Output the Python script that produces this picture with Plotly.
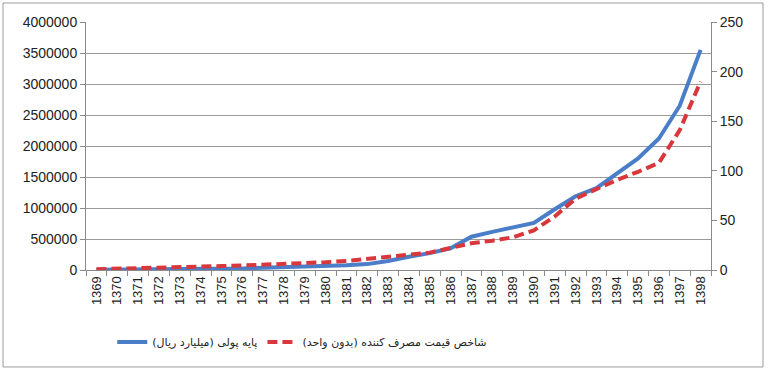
import plotly.graph_objects as go

years = [str(y) for y in range(1369, 1399)]
monetary_base = [3000, 4000, 5000, 7000, 9000, 13000, 18000, 25000, 37000, 45000,
                 54000, 64000, 77000, 95000, 145000, 215000, 272000, 350000, 537000, 615000,
                 680000, 760000, 980000, 1190000, 1320000, 1560000, 1800000, 2120000, 2650000, 3550000]
cpi = [0.8, 1.2, 1.5, 1.8, 2.5, 3.3, 4.0, 4.6, 5.2, 6.0,
       6.9, 7.8, 9.2, 11.0, 13.5, 15.5, 17.5, 22.0, 27.0, 29.5,
       33.0, 40.0, 54.0, 72.0, 82.0, 91.0, 99.0, 108.0, 141.0, 190.0]
name_mb = "پایه پولی (میلیارد ریال)\u200f"
name_cpi = "شاخص قیمت مصرف کننده (بدون واحد)\u200f"
left_ticks = [0, 500000, 1000000, 1500000, 2000000, 2500000, 3000000, 3500000, 4000000]
right_ticks = [0, 50, 100, 150, 200, 250]

fig = go.Figure()
fig.add_trace(go.Scatter(x=years, y=monetary_base, name=name_mb, mode="lines",
                         line=dict(color="#4A7EC8", width=4)))
fig.add_trace(go.Scatter(x=years, y=cpi, name=name_cpi, mode="lines", yaxis="y2",
                         line=dict(color="#D8383C", width=4, dash="10px,5px")))

axcol = "#8a8a8a"
fig.update_layout(
    width=768, height=369,
    margin=dict(l=86, r=57, t=22, b=99),
    paper_bgcolor="white", plot_bgcolor="white",
    font=dict(family="Liberation Sans, DejaVu Sans", size=14, color="#222"),
    showlegend=True,
    legend=dict(orientation="h", x=0.042, xanchor="left", y=-0.29, yanchor="middle",
                font=dict(family="DejaVu Sans", size=11, color="#222"),
                traceorder="normal", itemwidth=30),
    xaxis=dict(type="category", showgrid=False, showline=True, linecolor=axcol, linewidth=1,
               ticks="outside", tickson="boundaries", ticklen=5, tickcolor=axcol,
               tickangle=-90, tickfont=dict(size=13), range=[-0.5, 29.5]),
    yaxis=dict(range=[0, 4000000], tickvals=left_ticks, ticktext=[str(v) for v in left_ticks],
               showgrid=True, gridcolor="#9a9a9a", gridwidth=1.2, showline=True,
               linecolor=axcol, ticks="outside", ticklen=5, tickcolor=axcol, zeroline=False),
    yaxis2=dict(range=[0, 250], tickvals=right_ticks, overlaying="y", side="right",
                showgrid=False, showline=True, linecolor=axcol, ticks="outside", ticklen=5,
                tickcolor=axcol, zeroline=False),
    shapes=[dict(type="rect", xref="paper", yref="paper", x0=-0.1328, x1=1.0832,
                 y0=-0.391, y1=1.0766, line=dict(color="#9a9a9a", width=1), layer="below")],
)
fig.write_html("out.html", config={"displayModeBar": False},
               post_script="document.body.style.margin='0';")
